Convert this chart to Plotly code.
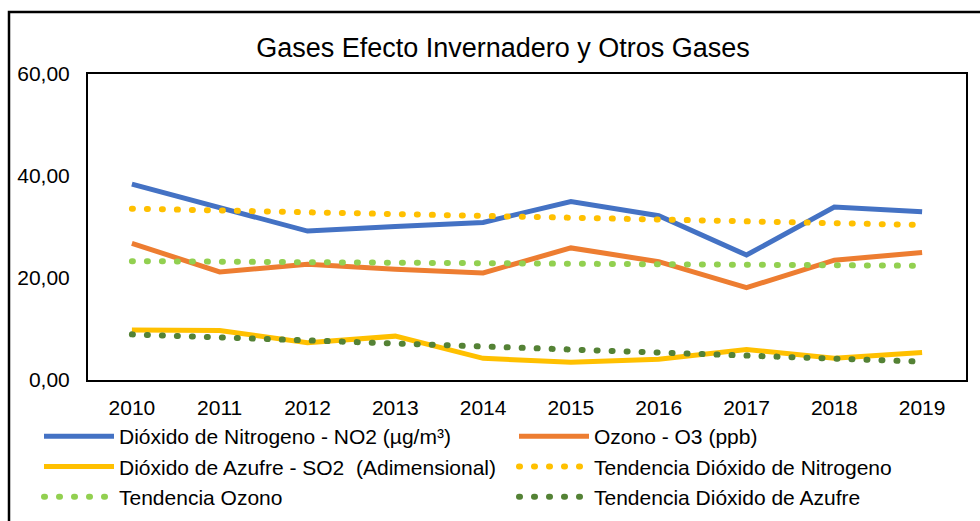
import plotly.graph_objects as go

years = ["2010", "2011", "2012", "2013", "2014", "2015", "2016", "2017", "2018", "2019"]
no2 = [38.4, 33.7, 29.2, 30.1, 30.9, 35.0, 32.2, 24.5, 33.9, 33.0]
o3 = [26.8, 21.2, 22.7, 21.7, 21.0, 25.9, 23.2, 18.1, 23.5, 25.0]
so2 = [9.8, 9.7, 7.3, 8.6, 4.25, 3.5, 4.05, 6.0, 4.25, 5.4]
trend_years = ["2010", "2019"]
trend_no2 = [33.6, 30.4]
trend_o3 = [23.3, 22.4]
trend_so2 = [8.95, 3.6]

FONT = "Liberation Sans, Arial, sans-serif"
DOT = "1px,14px"

fig = go.Figure()
fig.add_trace(go.Scatter(x=years, y=no2, mode="lines", name="Dióxido de Nitrogeno - NO2 (µg/m³)",
                         line=dict(color="#4472C4", width=5), legend="legend"))
fig.add_trace(go.Scatter(x=years, y=o3, mode="lines", name="Ozono - O3 (ppb)",
                         line=dict(color="#ED7D31", width=5), legend="legend2"))
fig.add_trace(go.Scatter(x=years, y=so2, mode="lines", name="Dióxido de Azufre - SO2  (Adimensional)",
                         line=dict(color="#FFC000", width=5), legend="legend"))
fig.add_trace(go.Scatter(x=trend_years, y=trend_no2, mode="lines", name="Tendencia Dióxido de Nitrogeno",
                         line=dict(color="#FFC000", width=6, dash=DOT), legend="legend2"))
fig.add_trace(go.Scatter(x=trend_years, y=trend_o3, mode="lines", name="Tendencia Ozono",
                         line=dict(color="#92D050", width=6, dash=DOT), legend="legend"))
fig.add_trace(go.Scatter(x=trend_years, y=trend_so2, mode="lines", name="Tendencia Dióxido de Azufre",
                         line=dict(color="#548235", width=6, dash=DOT), legend="legend2"))

L, R, T, B = 88, 14, 74, 141
W, H = 980, 521
pw, ph = W - L - R, H - T - B

def px_x(p):
    return (p - L) / pw

def px_y(p):
    return (H - B - p) / ph

leg_common = dict(orientation="v", yanchor="top", xanchor="left", bgcolor="rgba(0,0,0,0)",
                  font=dict(family=FONT, size=21, color="#000000"), itemwidth=70,
                  tracegroupgap=0, itemclick=False, itemdoubleclick=False)

fig.update_layout(
    width=W, height=H,
    margin=dict(l=L, r=R, t=T, b=B, autoexpand=False),
    paper_bgcolor="#FFFFFF", plot_bgcolor="#FFFFFF",
    separators=",.",
    title=dict(text="Gases Efecto Invernadero y Otros Gases", x=px_x(503), xref="paper", xanchor="center",
               y=1 - 47.5 / H, yanchor="middle", font=dict(family=FONT, size=27, color="#000000")),
    font=dict(family=FONT, size=21, color="#000000"),
    legend=dict(x=px_x(39), y=px_y(416), **leg_common),
    legend2=dict(x=px_x(514), y=px_y(416), **leg_common),
    xaxis=dict(type="category", showgrid=False, showline=True, linecolor="#000000", linewidth=2,
               mirror=True, ticks="", tickfont=dict(family=FONT, size=21, color="#000000"),
               range=[-0.5, 9.5], fixedrange=True, automargin=False, ticklabelstandoff=8),
    yaxis=dict(range=[0, 60], dtick=20, tickformat=".2f", showgrid=False, showline=True,
               linecolor="#000000", linewidth=2, mirror=True, ticks="", zeroline=False,
               tickfont=dict(family=FONT, size=21, color="#000000"), ticklabelstandoff=12,
               fixedrange=True, automargin=False),
    shapes=[dict(type="rect", xref="paper", yref="paper", x0=px_x(9), x1=px_x(1000),
                 y0=px_y(560), y1=px_y(12), line=dict(color="#000000", width=2.5),
                 fillcolor="rgba(0,0,0,0)", layer="above")],
)

post = """
document.documentElement.style.margin = '0';
document.body.style.margin = '0';
document.body.style.padding = '0';
var gd = document.getElementById('{plot_id}');
function roundDots(){
  gd.querySelectorAll('path').forEach(function(p){
    var d = p.style.strokeDasharray;
    if(d && d !== 'none' && d !== ''){ p.style.strokeLinecap = 'round'; }
  });
}
roundDots();
gd.on('plotly_afterplot', roundDots);
"""
fig.write_html("out.html", config={"displayModeBar": False}, post_script=post)
